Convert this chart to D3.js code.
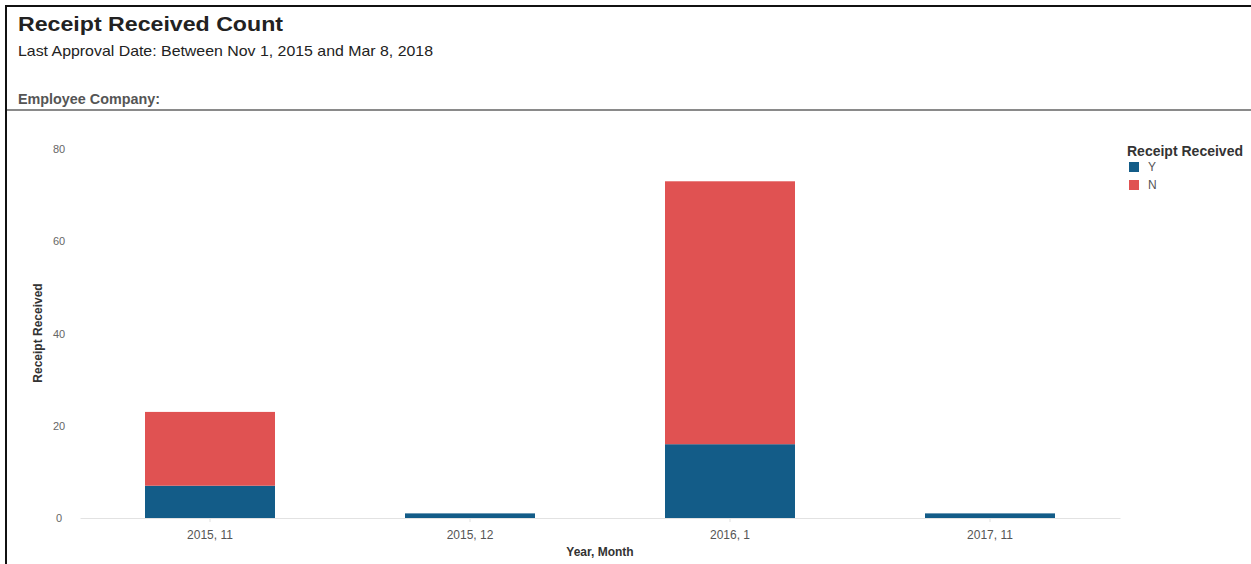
<!DOCTYPE html>
<html>
<head>
<meta charset="utf-8">
<script src="https://cdn.jsdelivr.net/npm/d3@7"></script>
<style>
body { margin: 0; background: #fff; }
svg { display: block; font-family: "Liberation Sans", Arial, sans-serif; }
</style>
</head>
<body>
<div id="chart"></div>
<script>
// chart data
var months = ["2015, 11", "2015, 12", "2016, 1", "2017, 11"];
var receivedY = [7, 1, 16, 1];
var receivedN = [16, 0, 57, 0];
var seriesKeys = ["Y", "N"];
var yTicks = [0, 20, 40, 60, 80];

var width = 1251, height = 564;
var colors = { Y: "#135c88", N: "#e05252" };

var svg = d3.select("#chart").append("svg")
    .attr("width", width)
    .attr("height", height);

// frame
svg.append("line").attr("x1", 6).attr("x2", width).attr("y1", 6).attr("y2", 6)
    .attr("stroke", "#111").attr("stroke-width", 2);
svg.append("line").attr("x1", 6).attr("x2", 6).attr("y1", 5).attr("y2", height)
    .attr("stroke", "#111").attr("stroke-width", 2);
svg.append("line").attr("x1", 7).attr("x2", width).attr("y1", 110).attr("y2", 110)
    .attr("stroke", "#8a8a8a").attr("stroke-width", 2);

// header texts (source picture is a bit stretched horizontally)
svg.append("text").attr("x", 18).attr("y", 31)
    .attr("font-size", 21).attr("font-weight", "bold").attr("fill", "#222")
    .attr("textLength", 265).attr("lengthAdjust", "spacingAndGlyphs")
    .text("Receipt Received Count");
svg.append("text").attr("x", 18).attr("y", 56)
    .attr("font-size", 14.5).attr("fill", "#222")
    .attr("textLength", 415).attr("lengthAdjust", "spacingAndGlyphs")
    .text("Last Approval Date: Between Nov 1, 2015 and Mar 8, 2018");
svg.append("text").attr("x", 18).attr("y", 104)
    .attr("font-size", 14).attr("font-weight", "bold").attr("fill", "#555")
    .attr("textLength", 142).attr("lengthAdjust", "spacingAndGlyphs")
    .text("Employee Company:");

var table = months.map(function (m, i) {
    return { month: m, Y: receivedY[i], N: receivedN[i] };
});

var x = d3.scaleBand().domain(months).range([80, 1120])
    .paddingInner(0.5).paddingOuter(0.25);
var y = d3.scaleLinear().domain([0, 80]).range([518, 149]);

var stacked = d3.stack().keys(seriesKeys)(table);

svg.append("g").selectAll("g")
    .data(stacked)
    .enter().append("g")
    .attr("fill", function (d) { return colors[d.key]; })
    .selectAll("rect")
    .data(function (d) { return d; })
    .enter().append("rect")
    .attr("x", function (d) { return x(d.data.month); })
    .attr("y", function (d) { return y(d[1]); })
    .attr("width", x.bandwidth())
    .attr("height", function (d) { return y(d[0]) - y(d[1]); });

// x axis
var xAxis = svg.append("g")
    .attr("transform", "translate(0,518)")
    .call(d3.axisBottom(x).tickSize(4).tickSizeOuter(0));
xAxis.select(".domain").attr("stroke", "#e2e2e2");
xAxis.selectAll(".tick line").attr("stroke", "#e2e2e2");
xAxis.selectAll("text").attr("font-size", 12).style("fill", "#555")
    .attr("dy", "1.2em").style("font-family", "Liberation Sans, Arial, sans-serif");

// y axis labels only
var yAxis = svg.append("g")
    .attr("transform", "translate(72,0)")
    .call(d3.axisLeft(y).tickValues(yTicks).tickSize(0).tickPadding(0));
yAxis.select(".domain").remove();
yAxis.selectAll("text").attr("font-size", 11).style("fill", "#666")
    .attr("text-anchor", "middle").attr("x", -13)
    .style("font-family", "Liberation Sans, Arial, sans-serif");

// axis titles
svg.append("text").attr("x", 600).attr("y", 556)
    .attr("text-anchor", "middle").attr("font-size", 12).attr("font-weight", "bold").attr("fill", "#333")
    .text("Year, Month");
svg.append("text")
    .attr("transform", "translate(42,333) rotate(-90)")
    .attr("text-anchor", "middle").attr("font-size", 12).attr("font-weight", "bold").attr("fill", "#333")
    .text("Receipt Received");

// legend
var legend = svg.append("g").attr("transform", "translate(1127,0)");
legend.append("text").attr("x", 0).attr("y", 156)
    .attr("font-size", 14).attr("font-weight", "bold").attr("fill", "#333")
    .attr("textLength", 116).attr("lengthAdjust", "spacingAndGlyphs")
    .text("Receipt Received");
var items = legend.selectAll(".item").data(seriesKeys).enter().append("g")
    .attr("transform", function (d, i) { return "translate(2," + (162 + i * 18) + ")"; });
items.append("rect").attr("width", 10).attr("height", 10)
    .attr("fill", function (d) { return colors[d]; });
items.append("text").attr("x", 19).attr("y", 9)
    .attr("font-size", 12).attr("fill", "#555")
    .text(function (d) { return d; });
</script>
</body>
</html>
